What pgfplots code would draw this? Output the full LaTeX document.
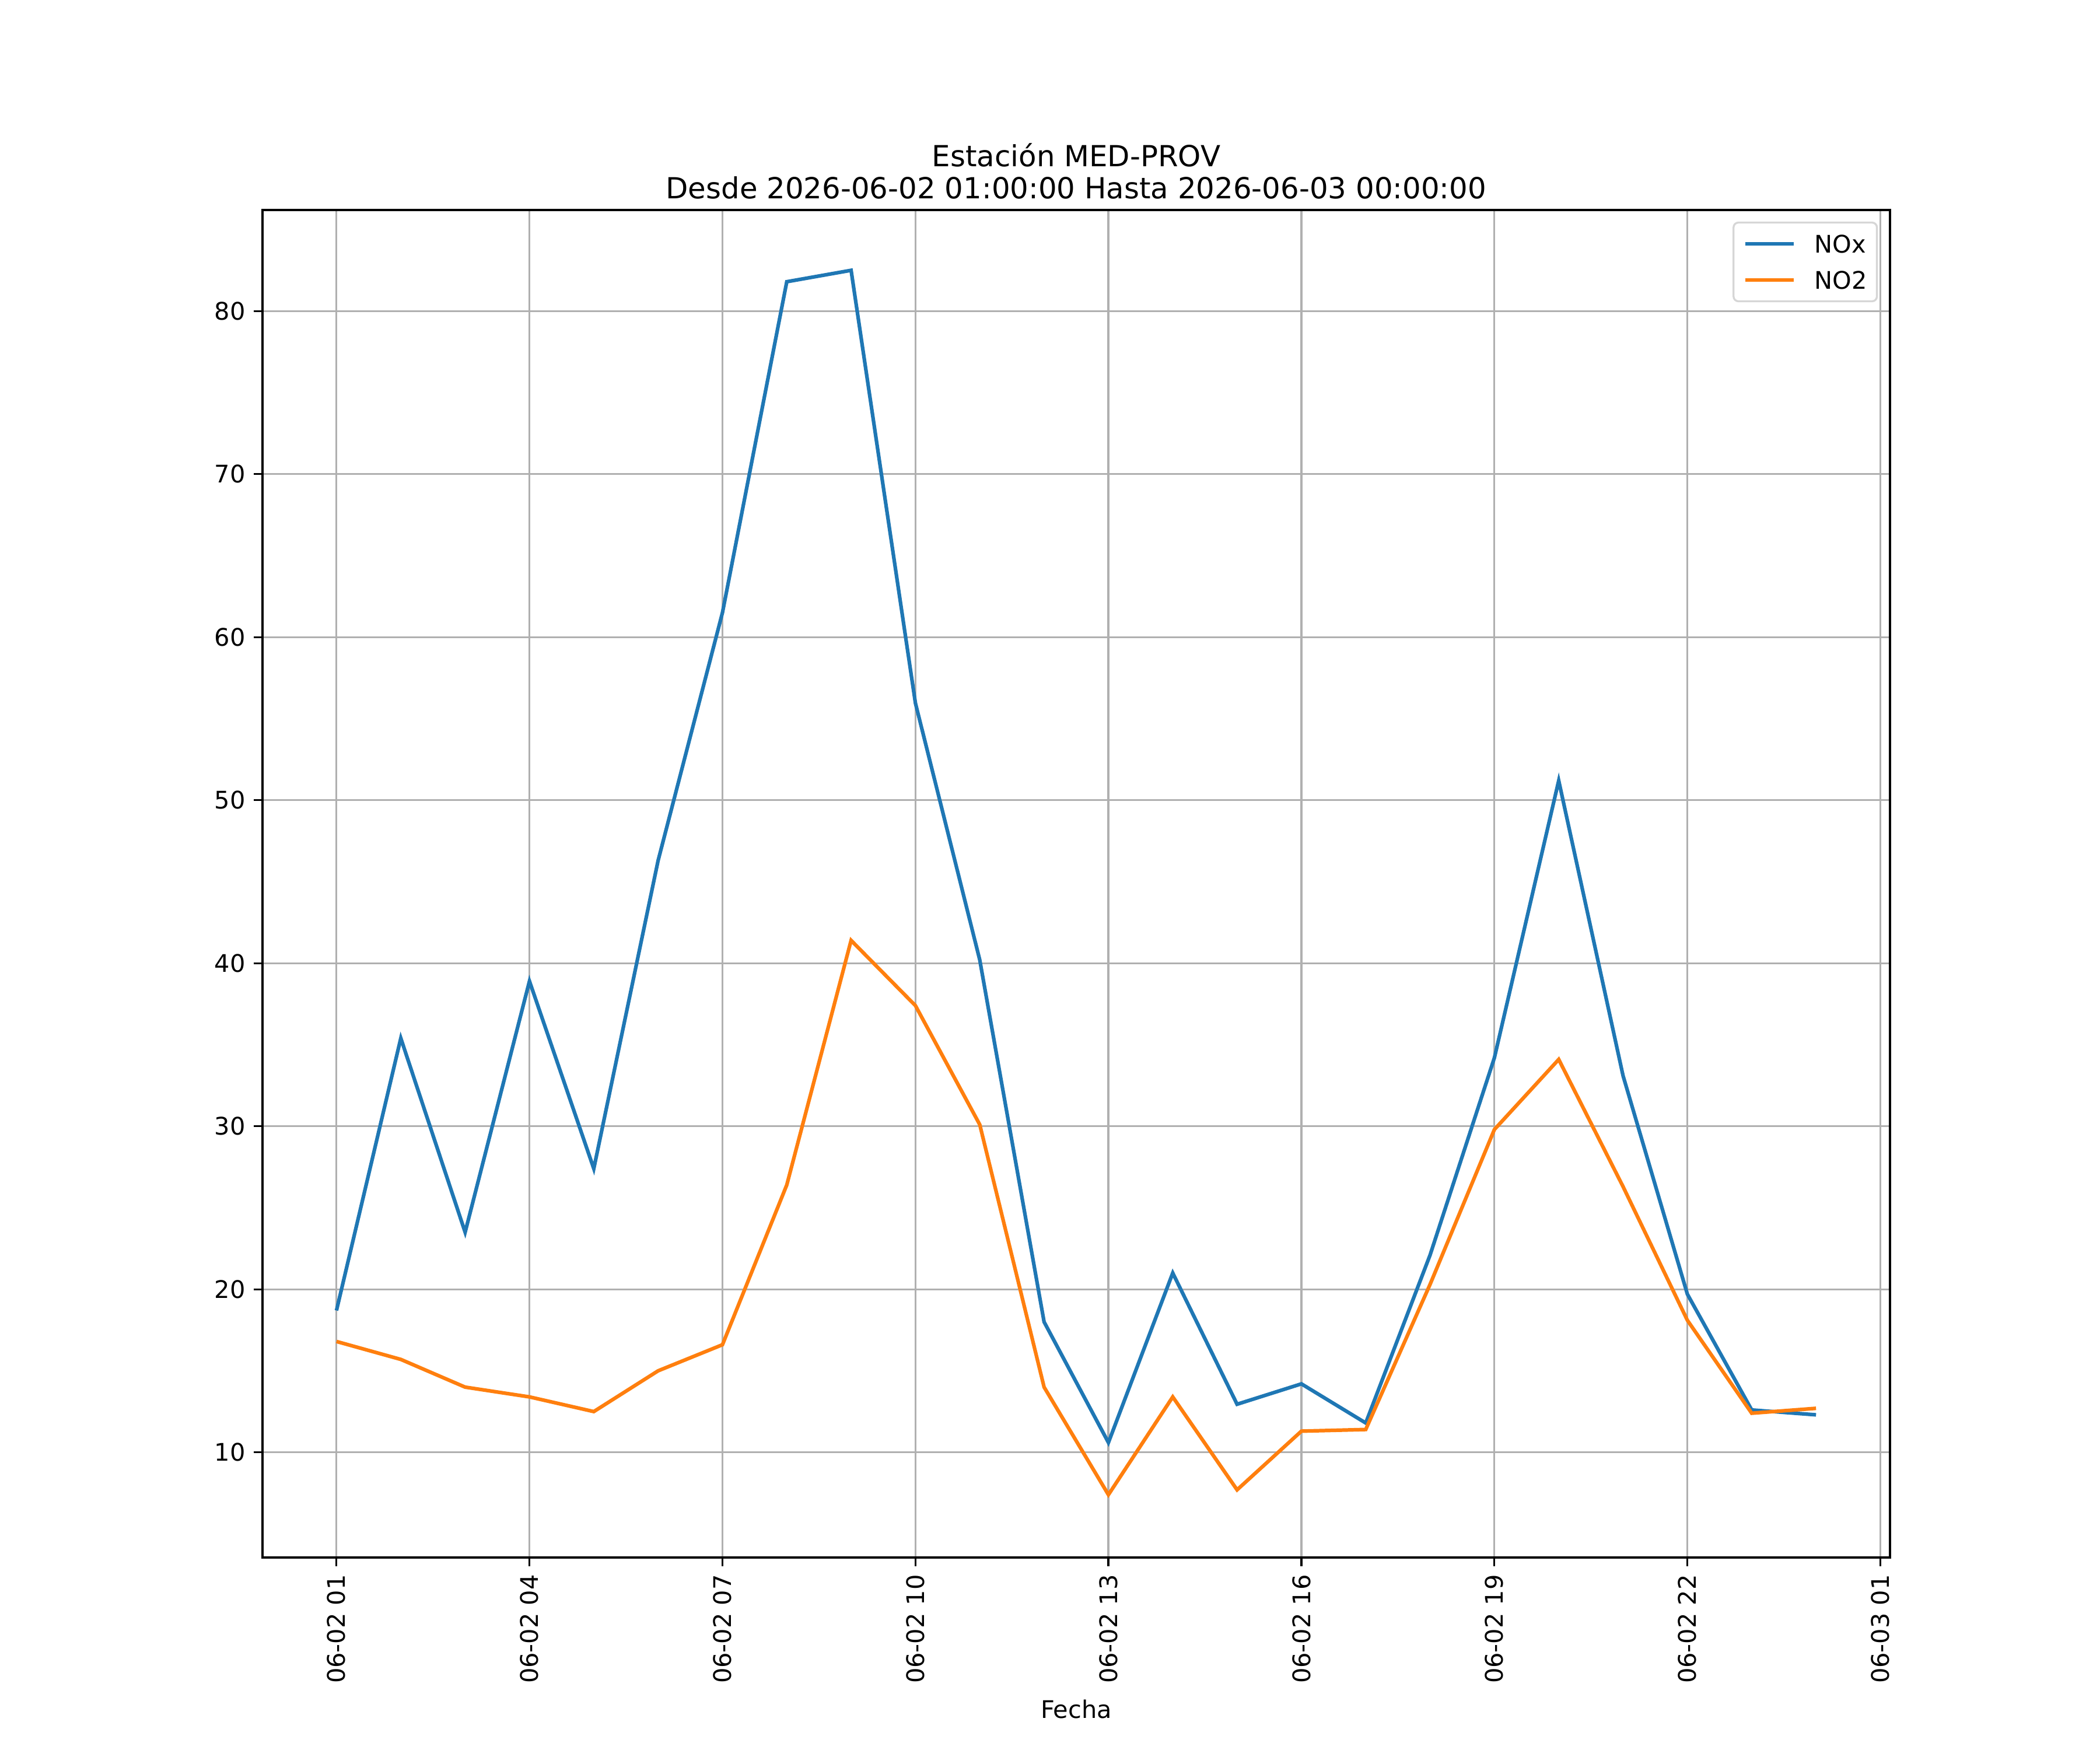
\documentclass[border=0pt]{standalone}
\usepackage{fontspec}
\setmainfont{DejaVu Sans}
\usepackage{pgfplots}
\pgfplotsset{compat=1.18}
\definecolor{mplblue}{HTML}{1F77B4}
\definecolor{mplorange}{HTML}{FF7F0E}
\definecolor{mplgrid}{HTML}{B0B0B0}
\definecolor{legedge}{HTML}{D6D6D6}
\begin{document}
\begin{tikzpicture}
\useasboundingbox (-1.5in,-1.1in) rectangle (10.5in,8.9in);
\begin{axis}[
 at={(0,0)}, anchor=south west,
 scale only axis, width=9.3in, height=7.7in,
 xmin=-0.15, xmax=25.15, ymin=3.55, ymax=86.2,
 xtick={1,4,7,10,13,16,19,22,25},
 xticklabels={06-02 01,06-02 04,06-02 07,06-02 10,06-02 13,06-02 16,06-02 19,06-02 22,06-03 01},
 ytick={10,20,30,40,50,60,70,80},
 xtick pos=bottom, ytick pos=left,
 grid=major, grid style={mplgrid, line width=0.8pt},
 axis line style={line width=0.8pt},
 tick align=outside, major tick length=3.5pt, tick style={black, line width=0.8pt},
 xticklabel style={rotate=90, anchor=east, font=\fontsize{10}{12}\selectfont},
 yticklabel style={font=\fontsize{10}{12}\selectfont},
 /pgf/number format/assume math mode=true,
 title={Estación MED-PROV\\Desde 2026-06-02 01:00:00 Hasta 2026-06-03 00:00:00},
 title style={align=center, font=\fontsize{12}{13.2}\selectfont, anchor=south, at={(0.5,1)}, inner sep=0pt, yshift=-1.6pt},
 xlabel={Fecha}, xlabel style={font=\fontsize{10}{12}\selectfont},
 legend cell align=left,
 legend style={at={(1,1)}, anchor=north east, xshift=-5pt, yshift=-4.8pt,
   draw=legedge, line width=0.8pt, rounded corners=2pt, font=\fontsize{10}{12}\selectfont,
   nodes={inner sep=0pt, text height=7.5pt, text depth=0pt},
   row sep=7.5pt, column sep=8pt, inner xsep=4pt, inner ysep=5pt},
 legend image code/.code={\draw[#1, line width=1.5pt] (0pt,0pt) -- (20pt,0pt);},
]
\addplot[mplblue, line width=1.5pt] coordinates {
(1,18.7) (2,35.4) (3,23.5) (4,38.9) (5,27.4) (6,46.3) (7,61.5) (8,81.8)
(9,82.5) (10,55.95) (11,40.2) (12,18.0) (13,10.6) (14,21.0) (15,12.95) (16,14.2)
(17,11.8) (18,22.1) (19,34.2) (20,51.2) (21,33.1) (22,19.7) (23,12.6) (24,12.3)};
\addlegendentry{NOx}
\addplot[mplorange, line width=1.5pt] coordinates {
(1,16.8) (2,15.7) (3,14.0) (4,13.4) (5,12.5) (6,15.0) (7,16.6) (8,26.4)
(9,41.4) (10,37.4) (11,30.1) (12,14.0) (13,7.4) (14,13.4) (15,7.7) (16,11.3)
(17,11.4) (18,20.3) (19,29.8) (20,34.1) (21,26.3) (22,18.1) (23,12.4) (24,12.7)};
\addlegendentry{NO2}
\end{axis}
\end{tikzpicture}
\end{document}
